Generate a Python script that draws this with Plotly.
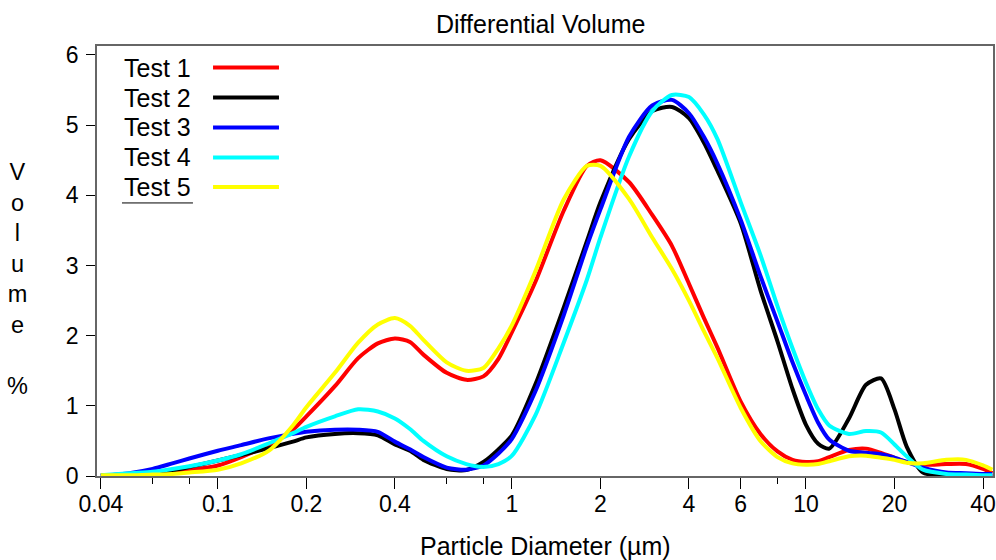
import plotly.graph_objects as go

diameters = [0.04, 0.05, 0.06, 0.07, 0.08, 0.1, 0.12, 0.15, 0.18, 0.2, 0.25, 0.3, 0.35, 0.4,
             0.45, 0.5, 0.6, 0.7, 0.8, 0.9, 1, 1.2, 1.5, 1.8, 2, 2.5, 3, 3.5, 4, 4.5, 5, 6, 7,
             8, 9, 10, 11, 12, 14, 16, 18, 20, 22, 25, 30, 35, 40, 43]

test1 = [0.01, 0.02, 0.03, 0.05, 0.08, 0.15, 0.27, 0.45, 0.66, 0.85, 1.28, 1.68, 1.89, 1.96,
         1.91, 1.73, 1.47, 1.37, 1.42, 1.67, 2.05, 2.76, 3.78, 4.42, 4.50, 4.19, 3.72, 3.28,
         2.74, 2.25, 1.83, 1.06, 0.60, 0.35, 0.23, 0.20, 0.21, 0.27, 0.37, 0.39, 0.33, 0.26,
         0.20, 0.16, 0.17, 0.17, 0.10, 0.04]
test2 = [0.01, 0.02, 0.04, 0.08, 0.13, 0.22, 0.30, 0.40, 0.49, 0.55, 0.60, 0.61, 0.58, 0.45,
         0.36, 0.23, 0.10, 0.085, 0.20, 0.38, 0.58, 1.30, 2.40, 3.35, 3.90, 4.80, 5.20, 5.26,
         5.10, 4.75, 4.35, 3.60, 2.65, 1.92, 1.24, 0.73, 0.46, 0.39, 0.82, 1.30, 1.39, 0.95,
         0.42, 0.05, 0.0, 0.0, 0.0, 0.0]
test3 = [0.0, 0.04, 0.10, 0.18, 0.25, 0.36, 0.44, 0.54, 0.60, 0.63, 0.66, 0.66, 0.63, 0.49,
         0.38, 0.27, 0.12, 0.09, 0.15, 0.32, 0.53, 1.20, 2.29, 3.28, 3.80, 4.83, 5.28, 5.36,
         5.17, 4.83, 4.45, 3.65, 2.85, 2.20, 1.62, 1.15, 0.76, 0.52, 0.36, 0.33, 0.31, 0.26,
         0.20, 0.12, 0.05, 0.04, 0.03, 0.03]
test4 = [0.01, 0.04, 0.06, 0.10, 0.14, 0.22, 0.31, 0.47, 0.61, 0.70, 0.85, 0.95, 0.92, 0.82,
         0.67, 0.50, 0.28, 0.17, 0.13, 0.17, 0.29, 0.86, 1.90, 2.80, 3.40, 4.55, 5.20, 5.43,
         5.40, 5.15, 4.80, 3.90, 3.15, 2.42, 1.82, 1.33, 0.95, 0.72, 0.60, 0.64, 0.62, 0.45,
         0.28, 0.09, 0.03, 0.02, 0.01, 0.01]
test5 = [0.01, 0.01, 0.02, 0.03, 0.05, 0.09, 0.18, 0.37, 0.72, 0.98, 1.47, 1.90, 2.16, 2.25,
         2.14, 1.94, 1.62, 1.50, 1.54, 1.82, 2.15, 2.91, 3.94, 4.42, 4.42, 3.95, 3.40, 2.95,
         2.50, 2.06, 1.68, 0.97, 0.50, 0.27, 0.18, 0.16, 0.17, 0.21, 0.28, 0.29, 0.26, 0.23,
         0.19, 0.18, 0.23, 0.23, 0.15, 0.09]

series_names = ["Test 1", "Test 2", "Test 3", "Test 4", "Test 5"]
series_values = [test1, test2, test3, test4, test5]
series_colors = ["#ff0000", "#000000", "#0000ff", "#00ffff", "#ffff00"]

x_tickvals = [0.04, 0.1, 0.2, 0.4, 1, 2, 4, 6, 10, 20, 40]
x_ticktext = ["0.04", "0.1", "0.2", "0.4", "1", "2", "4", "6", "10", "20", "40"]
x_minor_ticks = [0.06, 0.08, 0.6, 0.8, 8]
y_tickvals = [0, 1, 2, 3, 4, 5, 6]

FONT = "Liberation Sans, Arial, sans-serif"

fig = go.Figure()
for name, vals, col in zip(series_names, series_values, series_colors):
    fig.add_trace(go.Scatter(x=diameters, y=vals, mode="lines", name=name,
                             line=dict(color=col, width=4, shape="spline", smoothing=0.7),
                             showlegend=False, hoverinfo="skip"))

# custom legend: text left, line sample right
row_y = [0.950, 0.880, 0.8105, 0.7407, 0.672]
for name, col, yy in zip(series_names, series_colors, row_y):
    fig.add_annotation(x=0.0279, y=yy, xref="paper", yref="paper", text=name,
                       showarrow=False, xanchor="left", yanchor="middle",
                       font=dict(family=FONT, size=25, color="black"))
    fig.add_shape(type="line", xref="paper", yref="paper", x0=0.1295, x1=0.2031,
                  y0=yy, y1=yy, line=dict(color=col, width=4))
fig.add_shape(type="line", xref="paper", yref="paper", x0=0.0279, x1=0.1071,
              y0=0.635, y1=0.635, line=dict(color="black", width=1))

fig.add_annotation(x=0.4955, y=1.051, xref="paper", yref="paper", text="Differential Volume",
                   showarrow=False, xanchor="center", yanchor="middle",
                   font=dict(family=FONT, size=25, color="black"))
fig.add_annotation(x=0.5, y=-0.163, xref="paper", yref="paper", text="Particle Diameter (µm)",
                   showarrow=False, xanchor="center", yanchor="middle",
                   font=dict(family=FONT, size=25, color="black"))
fig.add_annotation(x=-0.0882, y=(476 - 278.5) / 430, xref="paper", yref="paper",
                   text="V<br>o<br>l<br>u<br>m<br>e<br> <br>%",
                   showarrow=False, xanchor="center", yanchor="middle",
                   font=dict(family=FONT, size=23.5, color="black"))

fig.update_layout(
    width=996, height=560,
    margin=dict(l=97, r=3, t=46, b=84, autoexpand=False),
    paper_bgcolor="white", plot_bgcolor="white",
    font=dict(family=FONT, size=23, color="black"),
    showlegend=False,
)
fig.update_xaxes(type="log", range=[-1.411, 1.636], tickvals=x_tickvals, ticktext=x_ticktext,
                 ticks="outside", ticklen=11, tickcolor="black", tickwidth=1,
                 showgrid=False, zeroline=False, showline=True, linecolor="#666666",
                 linewidth=1.5, mirror=True, ticklabelstandoff=-4, automargin=False,
                 tickfont=dict(family=FONT, size=23),
                 minor=dict(tickvals=x_minor_ticks, ticks="outside", ticklen=6,
                            tickcolor="black", showgrid=False))
fig.update_yaxes(range=[0, 6.128], tickvals=y_tickvals, ticks="outside", ticklen=9,
                 tickcolor="black", tickwidth=1, showgrid=False, zeroline=False,
                 showline=True, linecolor="#666666", linewidth=1.5, mirror=True,
                 ticklabelstandoff=3, automargin=False, tickfont=dict(family=FONT, size=23))

fig.write_html("out.html", config={"displayModeBar": False},
               post_script="document.body.style.margin='0';document.body.style.overflow='hidden';")
